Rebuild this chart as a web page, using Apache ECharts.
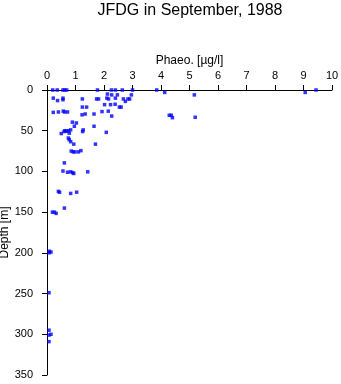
<!DOCTYPE html>
<html><head><meta charset="utf-8">
<script src="https://cdn.jsdelivr.net/npm/echarts@6/dist/echarts.min.js"></script>
<style>html,body{margin:0;padding:0;background:#fff}#c{width:341px;height:384px}</style>
</head><body><div id="c"></div>
<script>
const titleText = "JFDG in September, 1988";
const xName = "Phaeo. [\u00b5g/l]";
const yName = "Depth [m]";
const xTicks = [0,1,2,3,4,5,6,7,8,9,10];
const yTicks = [0,50,100,150,200,250,300,350];
const phaeo = [
 0.2,0.36,0.56,0.62,0.69,1.77,2.26,2.40,2.64,3.0,3.85,9.44,
 4.13,9.06,
 2.12,2.27,2.47,2.96,5.17,
 0.22,0.37,0.56,0.56,1.24,1.74,1.81,2.1,2.16,2.4,2.68,2.84,2.9,2.75,
 2.02,2.23,2.39,2.54,2.6,1.24,1.39,
 1.93,2.15,2.27,0.22,0.4,0.57,0.62,0.72,1.23,1.34,1.65,4.29,4.36,4.4,5.2,
 0.89,1.03,0.96,1.65,2.08,1.27,1.25,0.63,0.69,0.75,0.83,0.78,0.5,0.6,
 0.75,0.78,0.83,0.94,1.7,0.85,0.92,0.98,1.1,1.19,
 0.61,0.56,0.72,0.83,0.9,0.94,1.43,
 0.4,0.44,0.83,1.04,0.61,0.19,0.26,0.32,
 0.07,0.14,0.08,0.07,0.07,0.07,0.14,0.07
];
const depth = [
 0,0,0,0,0,0,0,0,0,0,0,0,
 3,3,
 5,6,6,6,6,
 10,13,10,12,11,11,11,10,11,10,11,11,11,14,
 18,18,17.5,21,21,21,21,
 26.5,26,32,27.5,27,26,27,27,30.5,29.5,29.5,31,31,34,33.5,
 39.5,40.5,44.5,44.5,52,49,51,50,50.5,50,49,53,53.5,51,
 59,61,63.5,66.5,66.5,75,76,76,76,74.5,
 89.5,99.5,101,100.5,101.5,102.5,100.5,
 124.5,125.5,127,125.5,145,150,150,151.5,
 200,199,198,249,295,301,300,309
];
const pts = phaeo.map((v,i)=>[v, depth[i]]);
const font = 'Liberation Sans, Arial, sans-serif';
const chart = echarts.init(document.getElementById('c'));
chart.setOption({
  animation:false,
  title:{text:titleText,left:185,textAlign:'center',top:-2,textStyle:{fontFamily:font,fontSize:16,fontWeight:'normal',color:'#000'}},
  grid:{left:47,top:90,right:9,bottom:9,containLabel:false,outerBoundsMode:'none'},
  xAxis:{type:'value',position:'top',min:0,max:10,interval:1,
    name:xName,nameLocation:'middle',nameGap:23,nameMoveOverlap:false,nameTextStyle:{fontFamily:font,fontSize:12,color:'#000'},
    axisLine:{show:true,lineStyle:{color:'#000',width:1}},
    axisTick:{show:true,inside:false,length:5,lineStyle:{color:'#000'}},
    axisLabel:{fontFamily:font,fontSize:11,color:'#000',margin:9,formatter:v=>xTicks.includes(v)?String(v):''},
    splitLine:{show:false}},
  yAxis:{type:'value',inverse:true,min:0,max:350,interval:50,
    name:yName,nameLocation:'middle',nameGap:36,nameMoveOverlap:false,nameTextStyle:{fontFamily:font,fontSize:12,color:'#000'},
    axisLine:{show:true,lineStyle:{color:'#000',width:1}},
    axisTick:{show:true,length:5,lineStyle:{color:'#000'}},
    axisLabel:{fontFamily:font,fontSize:11,color:'#000',margin:14,formatter:v=>yTicks.includes(v)?String(v):''},
    splitLine:{show:false}},
  series:[{type:'scatter',data:pts,symbol:'rect',symbolSize:3.5,itemStyle:{color:'#0000ff'}}]
});
</script></body></html>
